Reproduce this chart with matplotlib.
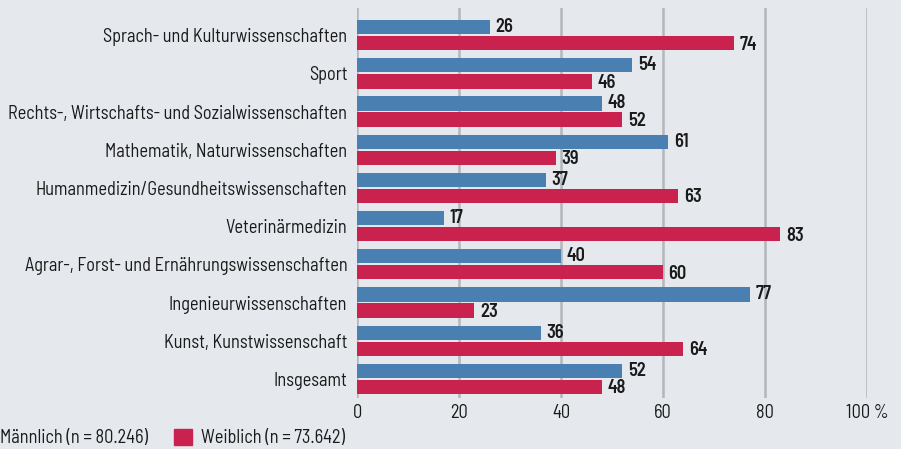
import matplotlib
matplotlib.use("Agg")
import matplotlib.pyplot as plt
import numpy as np
from matplotlib.patches import Patch

categories = [
    "Sprach- und Kulturwissenschaften",
    "Sport",
    "Rechts-, Wirtschafts- und Sozialwissenschaften",
    "Mathematik, Naturwissenschaften",
    "Humanmedizin/Gesundheitswissenschaften",
    "Veterinärmedizin",
    "Agrar-, Forst- und Ernährungswissenschaften",
    "Ingenieurwissenschaften",
    "Kunst, Kunstwissenschaft",
    "Insgesamt",
]
maennlich = [26, 54, 48, 61, 37, 17, 40, 77, 36, 52]
weiblich = [74, 46, 52, 39, 63, 83, 60, 23, 64, 48]
xticks = [0, 20, 40, 60, 80, 100]
xticklabels = ["0", "20", "40", "60", "80", "100 %"]
legend_labels = ["Männlich (n = 80.246)", "Weiblich (n = 73.642)"]

BLUE = "#4a80b1"
RED = "#c9224e"
BG = "#e5e9ee"
GRID = "#b3b6ba"
TXT = "#1a1a1a"

plt.rcParams["font.family"] = ["Barlow Semi Condensed", "DejaVu Sans"]

FS = 13.2

fig = plt.figure(figsize=(9.01, 4.49), dpi=100, facecolor=BG)
ax = fig.add_axes([357 / 901, 1 - 398 / 449, (867 - 357) / 901, (398 - 8) / 449])
ax.set_facecolor(BG)

y = np.arange(len(categories))
h = 0.375
off = 0.21
ax.barh(y - off, maennlich, height=h, color=BLUE, zorder=3)
ax.barh(y + off, weiblich, height=h, color=RED, zorder=3)

for yi, v in zip(y, maennlich):
    ax.annotate(str(v), (v, yi - off), xytext=(4, 0), textcoords="offset points",
                va="center", ha="left", fontsize=FS, fontweight="semibold", color=TXT)
for yi, v in zip(y, weiblich):
    ax.annotate(str(v), (v, yi + off), xytext=(4, -1), textcoords="offset points",
                va="center", ha="left", fontsize=FS, fontweight="semibold", color=TXT)

ax.set_xlim(0, 100)
ax.set_ylim(9.5, -0.71)
ax.set_xticks(xticks)
ax.set_xticklabels(xticklabels, fontsize=FS, color=TXT)
ax.set_yticks(y)
ax.set_yticklabels(categories, fontsize=FS, color=TXT)
ax.tick_params(axis="both", length=0)
ax.tick_params(axis="y", pad=7)
ax.tick_params(axis="x", pad=4)
for s in ax.spines.values():
    s.set_visible(False)
ax.grid(axis="x", color=GRID, linewidth=1.8, zorder=1)
ax.grid(axis="y", visible=False)

handles = [Patch(color=BLUE), Patch(color=RED)]
fig.legend(handles, legend_labels, loc="center left", bbox_to_anchor=(-0.030, 1 - 438 / 449),
           ncol=2, frameon=False, fontsize=FS, handlelength=0.95, handleheight=0.95,
           handletextpad=0.5, columnspacing=1.45, borderaxespad=0, borderpad=0, labelcolor=TXT)

fig.savefig("out.png", dpi=100, facecolor=BG)
